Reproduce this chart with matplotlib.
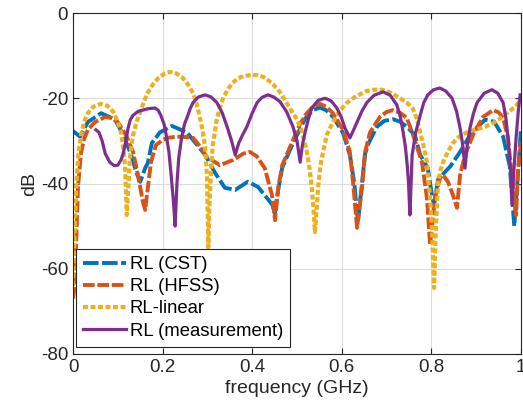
import matplotlib
matplotlib.use('Agg')
import matplotlib.pyplot as plt

plt.rcParams['font.family'] = ['Liberation Sans', 'DejaVu Sans']
plt.rcParams['axes.unicode_minus'] = False

# RL (CST)
cst_f = [0, 0.016, 0.033, 0.0625, 0.094, 0.112, 0.13, 0.141, 0.15, 0.161, 0.167,
         0.176, 0.194, 0.221, 0.254, 0.272, 0.295, 0.317, 0.339, 0.362, 0.39, 0.413,
         0.433, 0.445, 0.45, 0.458, 0.467, 0.489, 0.518, 0.535, 0.551, 0.565, 0.58,
         0.603, 0.618, 0.628, 0.636, 0.645, 0.652, 0.66, 0.678, 0.695, 0.714, 0.73,
         0.745, 0.763, 0.775, 0.792, 0.8, 0.806, 0.815, 0.842, 0.864, 0.89, 0.92,
         0.94, 0.96, 0.975, 0.985, 0.993, 1.0]
cst_db = [-27.7, -29, -25.6, -23.5, -25, -28.6, -33.3, -37.3, -39.6, -36.4, -35.2,
          -30.5, -28, -26.5, -28, -30.3, -33.3, -37.5, -41, -41.5, -39.6, -40.8,
          -43.4, -45, -47, -41.5, -36.3, -31, -24.8, -22.8, -22.2, -22.8, -24.3,
          -28.2, -33.3, -40, -49, -40, -33, -30.5, -26.7, -25.3, -24.9, -25.5,
          -26.7, -28.6, -33.3, -36.4, -42, -45, -39, -36, -32.6, -28, -25,
          -25.5, -29, -36, -50, -38, -27]

# RL (HFSS)
hfss_f = [0, 0.004, 0.011, 0.018, 0.025, 0.033, 0.049, 0.0714, 0.085, 0.1, 0.118,
          0.134, 0.145, 0.156, 0.161, 0.167, 0.174, 0.185, 0.2, 0.21, 0.232, 0.25,
          0.268, 0.285, 0.299, 0.328, 0.357, 0.38, 0.395, 0.41, 0.428, 0.444, 0.451,
          0.458, 0.467, 0.489, 0.505, 0.518, 0.535, 0.551, 0.565, 0.58, 0.603, 0.618,
          0.625, 0.634, 0.645, 0.652, 0.663, 0.685, 0.7, 0.714, 0.73, 0.745, 0.759,
          0.779, 0.79, 0.797, 0.808, 0.819, 0.826, 0.837, 0.848, 0.857, 0.864, 0.875,
          0.893, 0.915, 0.9375, 0.95, 0.96, 0.971, 0.982, 0.989, 0.993, 1.0]
hfss_db = [-67, -64, -41, -32.6, -29.5, -27.4, -25.6, -24.4, -24.6, -25.6, -28.6,
           -32.6, -38, -44.3, -46.2, -41, -35, -31, -29.8, -29.3, -29, -29.1,
           -29.3, -31.5, -33.8, -35.7, -34.5, -33, -32.6, -33.6, -36.4, -42.7, -48.6,
           -41, -35.7, -30.3, -26.5, -24, -22, -21.3, -22, -23.5, -27.4, -32.6,
           -39.6, -50.4, -41, -32.6, -28, -24.4, -23.2, -22.8, -23.4, -24.6, -28.6,
           -35, -43.4, -54.4, -43.4, -38.7, -38, -39.6, -42.7, -45.7, -38, -33.3,
           -28.6, -24.4, -22.8, -23.3, -24.6, -29.3, -41, -47.4, -37.3, -30]

# RL-linear
lin_f = [0, 0.004, 0.007, 0.012, 0.018, 0.025, 0.033, 0.045, 0.0625, 0.077, 0.09,
         0.1, 0.107, 0.112, 0.116, 0.12,
         0.124, 0.127, 0.134, 0.142, 0.15, 0.165, 0.178, 0.19, 0.203, 0.217, 0.231,
         0.245, 0.257, 0.268, 0.276, 0.283, 0.29, 0.295, 0.299, 0.302,
         0.305, 0.308, 0.312, 0.32, 0.327, 0.335, 0.345, 0.355, 0.367, 0.38, 0.4,
         0.412, 0.425, 0.445, 0.465, 0.485, 0.497, 0.507, 0.515, 0.522, 0.528, 0.533,
         0.537, 0.54,
         0.544, 0.547, 0.552, 0.558, 0.567, 0.58, 0.595, 0.612, 0.632, 0.656, 0.672,
         0.69, 0.71, 0.73, 0.745, 0.759, 0.768, 0.775, 0.783, 0.79, 0.797, 0.801, 0.806,
         0.81, 0.815, 0.82, 0.826, 0.837, 0.848, 0.862, 0.879, 0.9, 0.92, 0.935, 0.95,
         0.962, 0.975, 0.988, 1.0]
lin_db = [-64, -50, -41, -33, -28.6, -25.5, -23.5, -22, -21.3, -21.8, -23.2,
          -25.5, -28, -31.5, -35.7, -47.4,
          -40, -34, -28.6, -25.5, -23.2, -19, -16.8, -15.3, -14.3, -13.8, -14.2,
          -15.2, -16.8, -18.8, -21.3, -24.4, -28, -31.7, -38, -55,
          -44, -37, -31, -25.5, -22.5, -20, -18, -16.5, -15.4, -14.8, -14.5,
          -14.6, -15, -16.5, -19, -22.5, -24.5, -26.5, -29.5, -32.6, -36.5, -41,
          -46, -51.4,
          -46, -41, -36, -32.6, -28.5, -25.6, -23, -21, -19.5, -18.3, -18,
          -18, -18.7, -20, -21, -22.5, -25, -28, -31.5, -35, -43.4, -50, -64.5,
          -50, -39.6, -37, -35, -32.5, -30.5, -29, -28, -27.3, -26.7, -26, -25,
          -24, -23, -21.8, -20.5]

# RL (measurement)
meas_f = [0.051, 0.058, 0.065, 0.072, 0.082, 0.092, 0.1, 0.107, 0.112, 0.118, 0.123,
          0.128, 0.134, 0.145, 0.155, 0.17, 0.183, 0.19, 0.196, 0.203, 0.208, 0.214,
          0.219, 0.224, 0.228, 0.232, 0.236, 0.242, 0.249, 0.255, 0.262, 0.268, 0.28,
          0.295, 0.308, 0.321, 0.333, 0.344, 0.354, 0.362, 0.37, 0.379, 0.388, 0.4,
          0.411, 0.422, 0.435, 0.448, 0.462, 0.477, 0.491, 0.5, 0.507, 0.512, 0.518,
          0.525, 0.533, 0.547, 0.5625, 0.576, 0.589, 0.599, 0.607, 0.618, 0.626, 0.634,
          0.645, 0.656, 0.672, 0.692, 0.708, 0.723, 0.731, 0.737, 0.742, 0.746, 0.749,
          0.752, 0.755, 0.757, 0.765, 0.775, 0.783, 0.792, 0.805, 0.819, 0.832, 0.846,
          0.856, 0.864, 0.87, 0.875, 0.88, 0.886, 0.894, 0.902, 0.918, 0.935, 0.948,
          0.96, 0.966, 0.971, 0.976, 0.98, 0.984, 0.989, 0.994, 0.998]
meas_db = [-27.4, -28, -30, -33, -35, -35.8, -35.7, -34.5, -33, -30, -27,
           -25, -24, -23.1, -22.8, -22.4, -22.3, -22.8, -24, -26, -28.6, -32.5,
           -38, -44, -50, -40, -34, -29.5, -26, -24.4, -22.3, -21, -19.7,
           -19.2, -19.7, -21, -23.4, -26.7, -30, -33.3, -30.5, -28.5, -26.7, -23.5,
           -21, -19.8, -19.2, -19.7, -20.8, -23.2, -26.7, -30, -35, -31, -28,
           -25, -22.3, -20.5, -20, -20.6, -22.3, -24.5, -27, -29.3, -27.5, -25.6,
           -23, -21, -19.3, -18.5, -19.3, -21.6, -24.5, -28, -31.5, -35.7, -40,
           -47.4, -39, -33.3, -28, -24, -21, -19.2, -18, -17.6, -18.3, -20,
           -23, -27, -31, -36.4, -31, -27, -23.5, -21, -18.8, -18, -18.8,
           -21, -24.5, -29.3, -36, -45, -37, -29.3, -23, -19.2]

fig = plt.figure(figsize=(5.23, 4.17), dpi=100)
ax = fig.add_axes([0.1396, 0.1511, 0.8566, 0.8177])

ax.plot(cst_f, cst_db, color='#0072BD', lw=2.8, dashes=(4, 0.9), label='RL (CST)')
ax.plot(hfss_f, hfss_db, color='#D95319', lw=2.8, dashes=(3, 0.7), label='RL (HFSS)')
ax.plot(lin_f, lin_db, color='#EDB120', lw=3.0, dashes=(1.2, 0.6), label='RL-linear')
ax.plot(meas_f, meas_db, color='#7E2F8E', lw=2.3, label='RL (measurement)')

ax.set_xlim(0, 1)
ax.set_ylim(-80, 0)
ax.set_xticks([0, 0.2, 0.4, 0.6, 0.8, 1])
ax.set_xticklabels(['0', '0.2', '0.4', '0.6', '0.8', '1'])
ax.set_yticks([-80, -60, -40, -20, 0])
ax.grid(True, color='#dcdcdc', lw=0.8)
ax.set_axisbelow(True)
ax.tick_params(direction='in', length=4, width=0.8, colors='#262626',
               labelsize=13.5, top=True, right=True)
for s in ax.spines.values():
    s.set_color('#262626')
    s.set_linewidth(0.8)

ax.set_xlabel('frequency (GHz)', fontsize=14, color='#262626', labelpad=3)
ax.set_ylabel('dB', fontsize=14, color='#262626', labelpad=2)

leg = ax.legend(loc='lower left', bbox_to_anchor=(0.0067, 0.0205), borderaxespad=0,
                fontsize=13.3, handlelength=2.3, handletextpad=0.2,
                labelspacing=0.28, borderpad=0.4, fancybox=False,
                framealpha=1, edgecolor='#262626')
leg.get_frame().set_linewidth(0.8)

fig.savefig('out.png', dpi=100)
